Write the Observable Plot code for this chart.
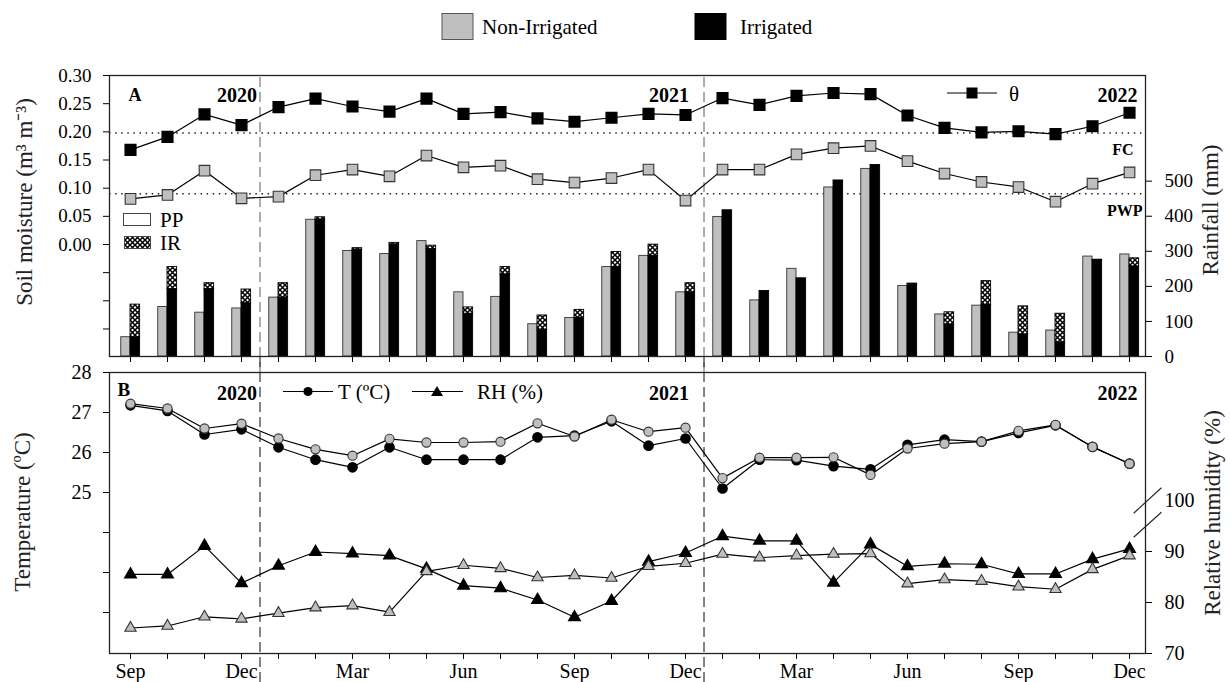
<!DOCTYPE html>
<html>
<head>
<meta charset="utf-8">
<script src="https://cdn.jsdelivr.net/npm/d3@7"></script>
<script src="https://cdn.jsdelivr.net/npm/@observablehq/plot@0.6"></script>
<style>
  body { margin: 0; background: #fff; font-family: "Liberation Serif", serif; }
  #wrap { position: relative; width: 1230px; height: 682px; overflow: hidden; }
  #wrap > svg { position: absolute; left: 0; }
  #wrap svg, #wrap svg text { font-family: "Liberation Serif", "Times New Roman", serif !important; }
</style>
</head>
<body>
<svg width="0" height="0" style="position:absolute">
  <defs>
    <pattern id="xhatch" patternUnits="userSpaceOnUse" width="5" height="5">
      <rect width="5" height="5" fill="#fff"/>
      <path d="M0,0 L5,5 M5,0 L0,5" stroke="#000" stroke-width="1.5"/>
    </pattern>
  </defs>
</svg>
<div id="wrap"></div>
<script>
// ---------------- DATA ----------------
const monthNames = ["Sep","Oct","Nov","Dec","Jan","Feb","Mar","Apr","May","Jun","Jul","Aug",
                    "Sep","Oct","Nov","Dec","Jan","Feb","Mar","Apr","May","Jun","Jul","Aug",
                    "Sep","Oct","Nov","Dec"];
const yearLabels = ["2020", "2021", "2022"];
const yearDividers = [3.5, 15.5];

// Soil moisture θ (m3 m-3)
const thetaIrrigated    = [0.168,0.191,0.231,0.212,0.244,0.259,0.245,0.236,0.259,0.232,0.235,0.224,0.218,0.225,0.232,0.230,0.260,0.248,0.264,0.269,0.267,0.229,0.207,0.199,0.201,0.196,0.210,0.234];
const thetaNonIrrigated = [0.081,0.088,0.131,0.082,0.085,0.123,0.133,0.121,0.158,0.137,0.140,0.116,0.110,0.118,0.133,0.078,0.133,0.133,0.160,0.171,0.175,0.148,0.126,0.111,0.102,0.076,0.108,0.128];
const fieldCapacity = 0.198;
const wiltingPoint  = 0.090;

// Rainfall (mm): PP = precipitation, IR = irrigation
const rainNonIrrigatedPP = [55,141,125,137,168,390,301,292,329,183,170,92,110,255,287,183,398,160,250,482,535,201,120,145,68,74,285,291];
const rainIrrigatedPP    = [55,192,192,152,168,390,304,319,306,122,234,76,110,255,287,183,417,187,223,502,546,205,91,147,63,40,274,257];
const rainIrrigatedIR    = [93,63,17,39,41,7,5,5,10,18,21,41,23,43,32,26,0,0,0,0,0,3,35,68,80,82,2,23];

// Temperature (ºC) and relative humidity (%)
const tempIrrigated    = [27.18,27.04,26.45,26.58,26.13,25.82,25.63,26.13,25.82,25.82,25.82,26.38,26.42,26.78,26.17,26.35,25.10,25.82,25.81,25.66,25.58,26.19,26.32,26.27,26.49,26.68,26.14,25.72];
const tempNonIrrigated = [27.22,27.10,26.60,26.72,26.35,26.08,25.92,26.34,26.25,26.25,26.27,26.73,26.40,26.82,26.52,26.62,25.36,25.87,25.87,25.88,25.44,26.10,26.22,26.27,26.54,26.69,26.14,25.72];
const rhIrrigated      = [85.5,85.5,91.1,83.8,87.2,89.9,89.6,89.2,86.6,83.3,82.8,80.5,77.1,80.3,88.0,89.7,93.0,92.1,92.1,83.9,91.4,87.1,87.6,87.5,85.6,85.6,88.5,90.5];
const rhNonIrrigated   = [75.0,75.4,77.2,76.8,77.9,79.0,79.4,78.1,86.1,87.3,86.7,84.9,85.3,84.8,87.1,87.7,89.5,88.8,89.2,89.5,89.6,83.7,84.5,84.2,83.1,82.6,86.5,89.2];

// Tick values
const smTicks    = [0, 0.05, 0.10, 0.15, 0.20, 0.25, 0.30];
const smMinor    = [-0.05, -0.10, -0.15];
const rainTicks  = [0, 100, 200, 300, 400, 500];
const tempTicks  = [25, 26, 27, 28];
const tempMinor  = [22, 23, 24];
const rhTicks    = [70, 80, 90];
const rhTop      = [100];

// ---------------- SCALE HELPERS ----------------
const xMin = -0.5676, xMax = 27.432;
const rainMax = 801.3;
const smToMm = v => 319.4 + v * 1606;            // soil moisture -> rainfall axis units
const tMin = 20.975, tMax = 28;
const rhToT = v => tMin + (v - 70) * 0.1275;      // RH -> temperature axis units

const idx = d3.range(monthNames.length);
const rowsA = idx.map(i => ({i, thI: thetaIrrigated[i], thN: thetaNonIrrigated[i],
  rN: rainNonIrrigatedPP[i], rP: rainIrrigatedPP[i], rIR: rainIrrigatedIR[i]}));
const rowsB = idx.map(i => ({i, tI: tempIrrigated[i], tN: tempNonIrrigated[i],
  hI: rhIrrigated[i], hN: rhNonIrrigated[i]}));

const FONT = '"Liberation Serif", "Times New Roman", serif';
const baseStyle = `font-family: ${FONT}; background: transparent; overflow: visible; color: #000;`;
const yearX = [yearDividers[0], yearDividers[1], xMax];
const yearDx = [-3, -15, -8];
const yearMarks = (dy) => yearLabels.map((t, k) => Plot.text([t], {
  x: yearX[k], dx: yearDx[k], frameAnchor: "top", dy, textAnchor: "end", lineAnchor: "middle",
  fontWeight: "bold", fontSize: 20}));

// ---------------- PANEL A ----------------
const chartA = Plot.plot({
  width: 1230, height: 372,
  marginTop: 75, marginBottom: 16, marginLeft: 109, marginRight: 85,
  style: baseStyle,
  x: {type: "linear", domain: [xMin, xMax], label: null},
  y: {type: "linear", domain: [0, rainMax], label: null},
  marks: [
    Plot.ruleX(yearDividers, {y1: -45.6, y2: rainMax, stroke: "#777", strokeDasharray: "10,5", strokeWidth: 1.2}),
    Plot.ruleY([fieldCapacity, wiltingPoint].map(smToMm), {stroke: "#222", strokeDasharray: "1.5,4.6", strokeWidth: 1.4}),
    Plot.rect(rowsA, {x1: d => d.i - 0.25, x2: d => d.i, y1: 0, y2: d => d.rN, fill: "#bfbfbf", stroke: "#333", strokeWidth: 0.9}),
    Plot.rect(rowsA, {x1: d => d.i, x2: d => d.i + 0.26, y1: 0, y2: d => d.rP, fill: "#000", stroke: "#000", strokeWidth: 0.9}),
    Plot.rect(rowsA.filter(d => d.rIR > 0), {x1: d => d.i, x2: d => d.i + 0.26, y1: d => d.rP, y2: d => d.rP + d.rIR, fill: "url(#xhatch)", stroke: "#000", strokeWidth: 0.9}),
    Plot.line(rowsA, {x: "i", y: d => smToMm(d.thI), stroke: "#000", strokeWidth: 1.2}),
    Plot.line(rowsA, {x: "i", y: d => smToMm(d.thN), stroke: "#000", strokeWidth: 1.2}),
    Plot.dot(rowsA, {x: "i", y: d => smToMm(d.thI), symbol: "square", r: 6, fill: "#000", stroke: "#000"}),
    Plot.dot(rowsA, {x: "i", y: d => smToMm(d.thN), symbol: "square", r: 6, fill: "#bfbfbf", stroke: "#333", strokeWidth: 1.1}),
    Plot.frame({stroke: "#222", strokeWidth: 1.3}),
    Plot.axisY(smTicks.map(smToMm), {anchor: "left", tickSize: 6, tickPadding: 12, fontSize: 19, label: null,
      tickFormat: d => (Math.round((d - 319.4) / 1606 * 100) / 100 + 0).toFixed(2)}),
    Plot.axisY(smMinor.map(smToMm), {anchor: "left", tickSize: 6, tickFormat: () => "", label: null}),
    Plot.axisY(rainTicks, {anchor: "right", tickSize: 6, tickPadding: 13, fontSize: 19, label: null}),
    Plot.axisX(idx, {anchor: "bottom", tickSize: 6, tickFormat: () => "", label: null}),
    ...yearMarks(20),
    Plot.text(["A"], {frameAnchor: "top-left", dx: 19, dy: 20, textAnchor: "start", lineAnchor: "middle", fontWeight: "bold", fontSize: 18}),
    Plot.text(["FC"], {frameAnchor: "right", y: smToMm(fieldCapacity), dx: -12, dy: 17, textAnchor: "end", fontWeight: "bold", fontSize: 16}),
    Plot.text(["PWP"], {frameAnchor: "right", y: smToMm(wiltingPoint), dx: -3, dy: 17, textAnchor: "end", fontWeight: "bold", fontSize: 16})
  ]
});
chartA.style.top = "0px";

// ---------------- PANEL B ----------------
const chartB = Plot.plot({
  width: 1230, height: 326,
  marginTop: 16, marginBottom: 29, marginLeft: 109, marginRight: 85,
  style: baseStyle,
  x: {type: "linear", domain: [xMin, xMax], label: null},
  y: {type: "linear", domain: [tMin, tMax], label: null},
  marks: [
    Plot.ruleX(yearDividers, {y1: 20.25, y2: 28.4, stroke: "#333", strokeDasharray: "10,5", strokeWidth: 1.2}),
    Plot.line(rowsB, {x: "i", y: "tI", stroke: "#000", strokeWidth: 1.2}),
    Plot.line(rowsB, {x: "i", y: "tN", stroke: "#000", strokeWidth: 1.2}),
    Plot.line(rowsB, {x: "i", y: d => rhToT(d.hI), stroke: "#000", strokeWidth: 1.2}),
    Plot.line(rowsB, {x: "i", y: d => rhToT(d.hN), stroke: "#000", strokeWidth: 1.2}),
    Plot.dot(rowsB, {x: "i", y: "tI", r: 4.6, fill: "#000", stroke: "#000"}),
    Plot.dot(rowsB, {x: "i", y: "tN", r: 4.6, fill: "#bfbfbf", stroke: "#333", strokeWidth: 1.1}),
    Plot.dot(rowsB, {x: "i", y: d => rhToT(d.hI), symbol: "triangle", r: 4.2, fill: "#000", stroke: "#000"}),
    Plot.dot(rowsB, {x: "i", y: d => rhToT(d.hN), symbol: "triangle", r: 4.2, fill: "#bfbfbf", stroke: "#333", strokeWidth: 1.1}),
    Plot.frame({stroke: "#222", strokeWidth: 1.3}),
    Plot.link([[97.5, 102.5], [92.8, 97.7]], {x1: xMax - 0.32, x2: xMax + 0.43, y1: d => rhToT(d[0]), y2: d => rhToT(d[1]), stroke: "#222", strokeWidth: 1.1}),
    Plot.axisY(tempTicks, {anchor: "left", tickSize: 6, tickPadding: 12, fontSize: 20, label: null}),
    Plot.axisY(tempMinor, {anchor: "left", tickSize: 6, tickFormat: () => "", label: null}),
    Plot.axisY(rhTicks.map(rhToT), {anchor: "right", tickSize: 6, tickPadding: 13, fontSize: 20, label: null,
      tickFormat: d => String(Math.round(70 + (d - tMin) / 0.1275))}),
    Plot.axisY(rhTop.map(rhToT), {anchor: "right", tickSize: 0, tickPadding: 19, fontSize: 20, label: null,
      tickFormat: d => String(Math.round(70 + (d - tMin) / 0.1275))}),
    Plot.axisX(idx, {anchor: "bottom", tickSize: 6, tickPadding: 4, fontSize: 20, label: null,
      tickFormat: i => (i % 3 === 0 ? monthNames[i] : "")}),
    ...yearMarks(21),
    Plot.text(["B"], {frameAnchor: "top-left", dx: 8, dy: 17, textAnchor: "start", lineAnchor: "middle", fontWeight: "bold", fontSize: 19})
  ]
});
chartB.style.top = "356px";

const wrap = document.getElementById("wrap");
wrap.appendChild(chartA);
wrap.appendChild(chartB);

// ---------------- LEGENDS & TITLES (overlay) ----------------
const ov = d3.select(wrap).append("svg")
  .attr("width", 1230).attr("height", 682)
  .style("position", "absolute").style("top", "0px").style("left", "0px")
  .style("overflow", "visible");

// top legend
ov.append("rect").attr("x", 442).attr("y", 13.5).attr("width", 31).attr("height", 26).attr("fill", "#bfbfbf").attr("stroke", "#555");
ov.append("text").attr("x", 482).attr("y", 27).attr("dominant-baseline", "central").attr("font-size", 21).text("Non-Irrigated");
ov.append("rect").attr("x", 695).attr("y", 13.5).attr("width", 31).attr("height", 26).attr("fill", "#000").attr("stroke", "#000");
ov.append("text").attr("x", 740).attr("y", 27).attr("dominant-baseline", "central").attr("font-size", 21).text("Irrigated");

// PP / IR legend
ov.append("rect").attr("x", 123.5).attr("y", 213.5).attr("width", 27).attr("height", 12).attr("fill", "#fff").attr("stroke", "#444");
ov.append("text").attr("x", 160).attr("y", 219.5).attr("dominant-baseline", "central").attr("font-size", 21).text("PP");
ov.append("rect").attr("x", 124.5).attr("y", 236.5).attr("width", 26).attr("height", 12).attr("fill", "url(#xhatch)").attr("stroke", "#444");
ov.append("text").attr("x", 160).attr("y", 242.5).attr("dominant-baseline", "central").attr("font-size", 21).text("IR");

// theta legend
ov.append("line").attr("x1", 947).attr("x2", 997).attr("y1", 93).attr("y2", 93).attr("stroke", "#000").attr("stroke-width", 1.2);
ov.append("rect").attr("x", 966.5).attr("y", 87.5).attr("width", 11).attr("height", 11).attr("fill", "#000");
ov.append("text").attr("x", 1009).attr("y", 94).attr("dominant-baseline", "central").attr("font-size", 21).text("θ");

// T / RH legend
ov.append("line").attr("x1", 283).attr("x2", 333).attr("y1", 391.5).attr("y2", 391.5).attr("stroke", "#000").attr("stroke-width", 1.2);
ov.append("circle").attr("cx", 308).attr("cy", 391.5).attr("r", 4.6).attr("fill", "#000");
ov.append("text").attr("x", 338).attr("y", 392).attr("dominant-baseline", "central").attr("font-size", 21).text("T (ºC)");
ov.append("line").attr("x1", 412).attr("x2", 463).attr("y1", 391.5).attr("y2", 391.5).attr("stroke", "#000").attr("stroke-width", 1.2);
ov.append("path").attr("d", "M437,386 L443,396 L431,396 Z").attr("fill", "#000");
ov.append("text").attr("x", 477).attr("y", 392).attr("dominant-baseline", "central").attr("font-size", 21).text("RH (%)");

// axis titles
const title = (x, y, t) => ov.append("text")
  .attr("transform", `translate(${x},${y}) rotate(-90)`)
  .attr("text-anchor", "middle").attr("dominant-baseline", "central")
  .attr("font-size", 23).attr("fill", "#222").text(t);
title(24, 202, "Soil moisture (m³ m⁻³)");
title(1210, 210, "Rainfall (mm)");
title(22, 512, "Temperature (ºC)");
title(1212, 513, "Relative humidity (%)");
</script>
</body>
</html>
